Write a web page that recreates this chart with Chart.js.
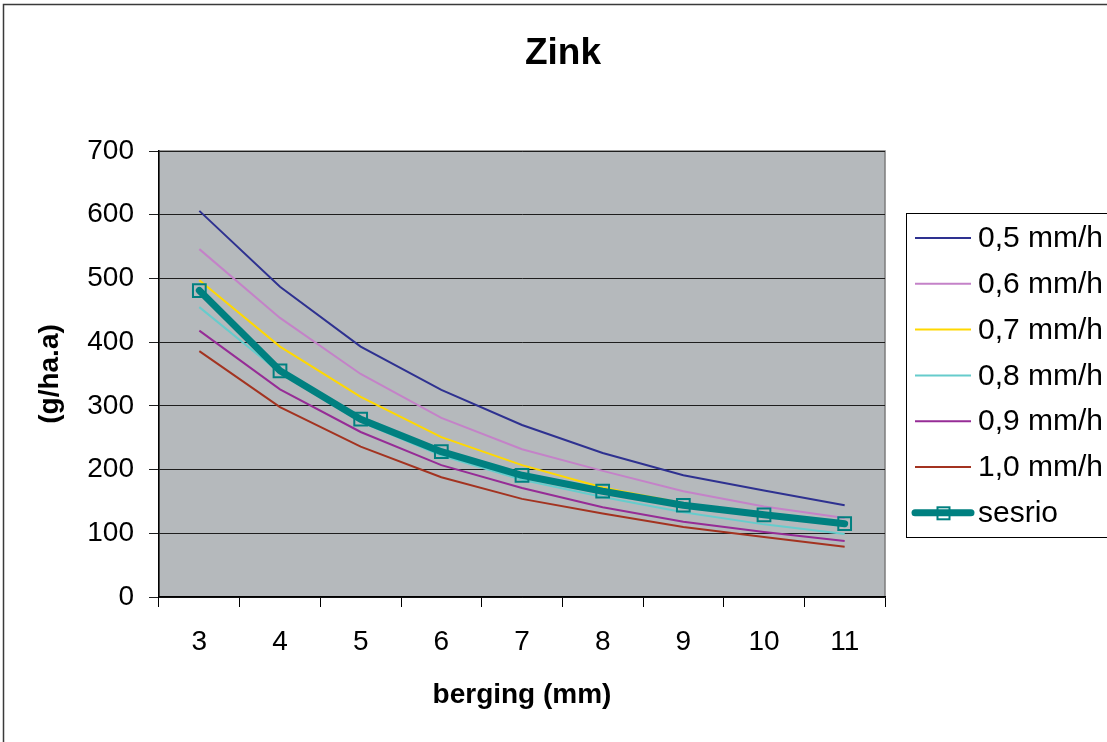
<!DOCTYPE html>
<html>
<head>
<meta charset="utf-8">
<title>Zink</title>
<script src="https://cdn.jsdelivr.net/npm/chart.js@4"></script>
<style>
  html, body { margin: 0; padding: 0; background: #fff; }
  #wrap { width: 1107px; height: 742px; }
</style>
</head>
<body>
<div id="wrap"><canvas id="zink" width="1107" height="742"></canvas></div>
<script>
const berging = ["3", "4", "5", "6", "7", "8", "9", "10", "11"];

const mm05 = [606, 487, 393, 325, 270, 226, 191, 167, 144];
const mm06 = [546, 438, 350, 281, 232, 198, 166, 142, 124];
const mm07 = [497, 393, 314, 251, 207, 172, 147, 129, 112];
const mm08 = [455, 352, 275, 222, 184, 157, 133, 114, 99];
const mm09 = [418, 326, 259, 207, 171, 141, 118, 102, 88];
const mm10 = [386, 298, 236, 188, 154, 131, 110, 94, 79];
const sesrio = [481, 355, 279, 228, 191, 166, 144, 129, 115];

const yTicks = [0, 100, 200, 300, 400, 500, 600, 700];

const FONT = "'Liberation Sans', Arial, sans-serif";
const TEAL = "#008080";

function thin(label, data, color) {
  return {
    label, data,
    borderColor: color,
    borderWidth: 2,
    pointRadius: 0,
    tension: 0,
    order: 1
  };
}

// grey plot area, outer frame and title
const background = {
  id: "background",
  beforeDraw(chart) {
    const { ctx, chartArea: a } = chart;
    ctx.save();
    ctx.fillStyle = "#fff";
    ctx.fillRect(0, 0, chart.width, chart.height);
    ctx.strokeStyle = "#3a3a3a";
    ctx.lineWidth = 1.5;
    ctx.strokeRect(3.5, 4.5, chart.width + 20, chart.height + 20);
    ctx.fillStyle = "#b5b9bc";
    ctx.fillRect(a.left, a.top, a.right - a.left, a.bottom - a.top);
    ctx.strokeStyle = "#7d7d7d";
    ctx.lineWidth = 1.5;
    ctx.strokeRect(a.left, a.top, a.right - a.left, a.bottom - a.top);
    ctx.restore();
  },
  afterDraw(chart) {
    const ctx = chart.ctx;
    ctx.save();
    ctx.fillStyle = "#000";
    ctx.font = "bold 37px " + FONT;
    ctx.textAlign = "center";
    ctx.textBaseline = "middle";
    ctx.fillText("Zink", 563, 54);
    ctx.restore();
  }
};

// legend box on the right, one line sample per series
const sideLegend = {
  id: "sideLegend",
  afterDraw(chart) {
    const ctx = chart.ctx;
    const x0 = 906, y0 = 213, rowH = 45.8;
    ctx.save();
    ctx.fillStyle = "#fff";
    ctx.fillRect(x0, y0, 230, 324);
    ctx.strokeStyle = "#000";
    ctx.lineWidth = 1;
    ctx.strokeRect(x0 + 0.5, y0 + 0.5, 230, 324);
    ctx.font = "30px " + FONT;
    ctx.textBaseline = "middle";
    chart.data.datasets.forEach((ds, i) => {
      const y = y0 + 25 + i * rowH;
      ctx.strokeStyle = ds.borderColor;
      ctx.lineWidth = ds.borderWidth;
      ctx.lineCap = ds.borderWidth > 3 ? "round" : "butt";
      ctx.beginPath();
      ctx.moveTo(915, y);
      ctx.lineTo(971, y);
      ctx.stroke();
      if (ds.pointRadius) {
        ctx.lineWidth = ds.pointBorderWidth;
        ctx.strokeRect(937.5, y - 5.5, 12, 12);
      }
      ctx.fillStyle = "#000";
      ctx.fillText(ds.label, 978, y + 1);
    });
    ctx.restore();
  }
};

new Chart(document.getElementById("zink"), {
  type: "line",
  data: {
    labels: berging,
    datasets: [
      thin("0,5 mm/h", mm05, "#2e3190"),
      thin("0,6 mm/h", mm06, "#c482c8"),
      thin("0,7 mm/h", mm07, "#ffd800"),
      thin("0,8 mm/h", mm08, "#66cccc"),
      thin("0,9 mm/h", mm09, "#962c96"),
      thin("1,0 mm/h", mm10, "#a33320"),
      {
        label: "sesrio",
        data: sesrio,
        borderColor: TEAL,
        borderWidth: 7,
        borderCapStyle: "round",
        borderJoinStyle: "round",
        pointStyle: "rect",
        pointRadius: 9,
        pointBorderWidth: 2,
        pointBorderColor: TEAL,
        pointBackgroundColor: "rgba(0,0,0,0)",
        tension: 0,
        order: 0
      }
    ]
  },
  plugins: [background, sideLegend],
  options: {
    responsive: false,
    animation: false,
    devicePixelRatio: 1,
    layout: { padding: { left: 0, right: 222, top: 151, bottom: 0 } },
    plugins: {
      legend: { display: false },
      title: { display: false },
      tooltip: { enabled: false }
    },
    scales: {
      x: {
        offset: true,
        afterFit: s => { s.height = 145; },
        grid: {
          offset: true,
          drawOnChartArea: false,
          drawTicks: true,
          tickLength: 10,
          color: "#000"
        },
        border: { color: "#000", width: 1.5 },
        ticks: { color: "#000", padding: 18, font: { family: FONT, size: 28 }, maxRotation: 0 },
        title: {
          display: true,
          text: "berging (mm)",
          color: "#000",
          font: { family: FONT, size: 28, weight: "bold" },
          padding: { top: 0, bottom: 30 }
        }
      },
      y: {
        min: 0,
        max: 700,
        afterFit: s => { s.width = 159; },
        afterBuildTicks: s => { s.ticks = yTicks.map(v => ({ value: v })); },
        grid: { color: "#1e1e1e", lineWidth: 1, tickLength: 10 },
        border: { color: "#000", width: 1.5 },
        ticks: { color: "#000", padding: 15, font: { family: FONT, size: 28 } },
        title: {
          display: true,
          text: "(g/ha.a)",
          color: "#000",
          font: { family: FONT, size: 28, weight: "bold" },
          padding: { top: 33, bottom: 0 }
        }
      }
    }
  }
});
</script>
</body>
</html>
